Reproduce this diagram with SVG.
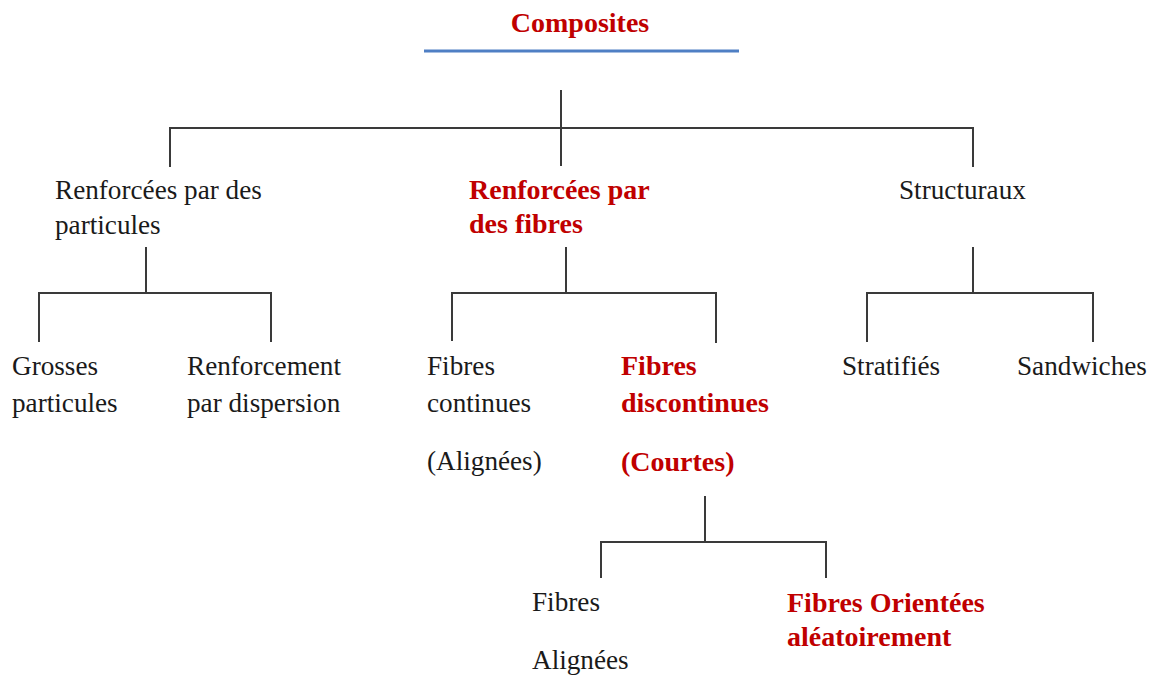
<svg xmlns="http://www.w3.org/2000/svg" width="1157" height="675" viewBox="0 0 1157 675">
<style>
text{font-family:"Liberation Serif","Times New Roman",serif;font-size:27.2px;fill:#1a1a1a}
.r{fill:#c00000;font-weight:bold;font-size:28px}
.c line{stroke:#3a3a3a;stroke-width:2}
</style>
<rect width="1157" height="675" fill="#fff"/>
<g id="title"><text class="r" x="580" y="32" text-anchor="middle">Composites</text><line x1="424" y1="51" x2="739" y2="51" stroke="#4f7fc4" stroke-width="3"/></g>
<g class="c" id="connectors">
<line x1="561" y1="90" x2="561" y2="166"/>
<line x1="170" y1="128" x2="973" y2="128"/>
<line x1="170" y1="127" x2="170" y2="167"/>
<line x1="973" y1="127" x2="973" y2="167"/>
<line x1="146" y1="247" x2="146" y2="293"/>
<line x1="39" y1="293" x2="271" y2="293"/>
<line x1="39" y1="292" x2="39" y2="342"/>
<line x1="271" y1="292" x2="271" y2="342"/>
<line x1="566" y1="247" x2="566" y2="293"/>
<line x1="452" y1="293" x2="716" y2="293"/>
<line x1="452" y1="292" x2="452" y2="341"/>
<line x1="716" y1="292" x2="716" y2="343"/>
<line x1="973" y1="247" x2="973" y2="293"/>
<line x1="867" y1="293" x2="1093" y2="293"/>
<line x1="867" y1="292" x2="867" y2="342"/>
<line x1="1093" y1="292" x2="1093" y2="342"/>
<line x1="705" y1="496" x2="705" y2="542"/>
<line x1="601" y1="542" x2="826" y2="542"/>
<line x1="601" y1="541" x2="601" y2="578"/>
<line x1="826" y1="541" x2="826" y2="578"/>
</g>
<g id="particules"><text x="55" y="199">Renforcées par des</text><text x="55" y="234">particules</text></g>
<g id="fibres"><text class="r" x="469" y="199">Renforcées par</text><text class="r" x="469" y="233">des fibres</text></g>
<g id="structuraux"><text x="899" y="199">Structuraux</text></g>
<g id="grosses"><text x="12" y="375">Grosses</text><text x="12" y="412">particules</text></g>
<g id="dispersion"><text x="187" y="375">Renforcement</text><text x="187" y="412">par dispersion</text></g>
<g id="continues"><text x="427" y="375">Fibres</text><text x="427" y="412">continues</text><text x="427" y="470">(Alignées)</text></g>
<g id="discontinues"><text class="r" x="621" y="375">Fibres</text><text class="r" x="621" y="412">discontinues</text><text class="r" x="621" y="471">(Courtes)</text></g>
<g id="stratifies"><text x="842" y="375">Stratifiés</text></g>
<g id="sandwiches"><text x="1017" y="375">Sandwiches</text></g>
<g id="alignees"><text x="532" y="611">Fibres</text><text x="532" y="669">Alignées</text></g>
<g id="orientees"><text class="r" x="787" y="612">Fibres Orientées</text><text class="r" x="787" y="646">aléatoirement</text></g>
</svg>
